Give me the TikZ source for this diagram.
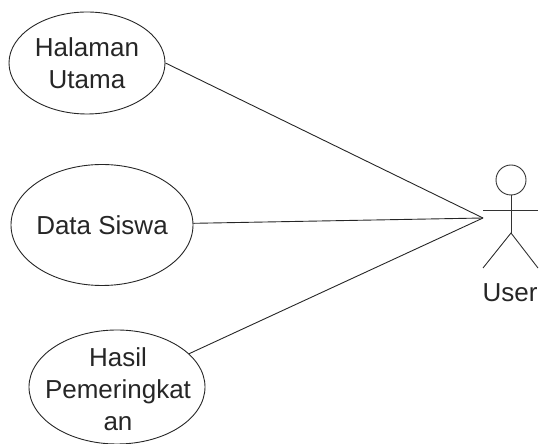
\documentclass[tikz,border=0pt]{standalone}
\usepackage{fontspec}
\setmainfont{Liberation Sans}
\usetikzlibrary{shapes.geometric}
\begin{document}
\begin{tikzpicture}[x=1pt,y=1pt,
  usecase/.style={draw=black!85, line width=0.9pt, ellipse, inner sep=0pt},
  caption/.style={align=center, inner sep=0pt, font=\fontsize{26}{32}\selectfont, text=black!85},
  link/.style={draw=black!85, line width=0.9pt},
  actorline/.style={draw=black!80, line width=0.9pt}]
\useasboundingbox (0,0) rectangle (541,444);
% use cases: the outline and its caption are separate nodes so the text never widens the ellipse
\node[usecase, minimum width=156, minimum height=102] (home) at (87,381) {};
\node[caption] (homeText) at (home) {Halaman\\Utama};
\node[usecase, minimum width=182, minimum height=121] (data) at (102,219) {};
\node[caption] (dataText) at (data) {Data Siswa};
\node[usecase, minimum width=176, minimum height=114] (rank) at (117,57) {};
\node[caption] (rankText) at (118,55) {Hasil\\Pemeringkat\\an};
% actor
\node[circle, draw=black!80, line width=0.9pt, minimum size=30, inner sep=0pt] (head) at (511,264) {};
\coordinate (hip) at (511,211);
\draw[actorline] (head.south) -- (hip);
\draw[actorline] (483,234) -- (538,234);
\draw[actorline] (483,176) -- (hip) -- (538,176);
\node[font=\fontsize{26}{30}\selectfont, text=black!85] (user) at (510,151) {User};
% associations
\coordinate (u) at (483,226);
\draw[link] (home.east) -- (u);
\draw[link] (data) -- (u);
\draw[link] (rank) -- (u);
\end{tikzpicture}
\end{document}
